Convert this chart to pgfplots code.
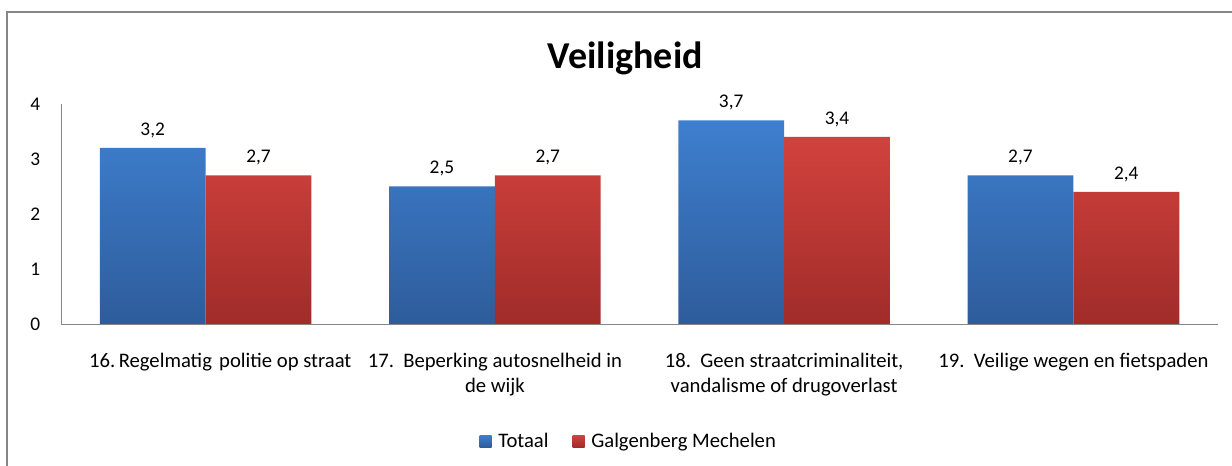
\documentclass[border=0pt]{standalone}
\usepackage{pgfplots}
\pgfplotsset{compat=1.18}
\usepackage{fontspec}
\setmainfont{Carlito}
\definecolor{bluetop}{RGB}{62,127,207}
\definecolor{bluebot}{RGB}{46,92,155}
\definecolor{redtop}{RGB}{210,66,61}
\definecolor{redbot}{RGB}{160,44,42}
\definecolor{frame}{RGB}{134,134,134}
\begin{document}
\begin{tikzpicture}
\useasboundingbox (0,0) rectangle (924pt,349.5pt);
\draw[frame, line width=0.8pt] (5.25pt,0) -- (5.25pt,340.5pt) -- (924pt,340.5pt);
\node[font=\fontsize{28.5}{32}\selectfont\bfseries] at (469pt,306pt) {Veiligheid};
\begin{axis}[
  at={(45.75pt,106.5pt)}, anchor=south west,
  scale only axis, width=867.75pt, height=165pt,
  xmin=0, xmax=4, ymin=0, ymax=4,
  ybar=0pt, bar width=0.366,
  axis x line*=bottom, axis y line*=left,
  axis line style={draw=frame, -},
  major tick length=0pt,
  ytick={0,1,2,3,4},
  xtick={0.5,1.5,2.5,3.5},
  xticklabels={{\hspace{22pt}16.\,Regelmatig\hspace{0.35em}politie op straat},{17.\ \ Beperking autosnelheid in\\de wijk},{18.\ \ Geen straatcriminaliteit,\\vandalisme of drugoverlast},{19.\ \ Veilige wegen en fietspaden}},
  xticklabel style={font=\fontsize{15.5}{18.75}\selectfont, align=center, anchor=north, yshift=-18pt},
  yticklabel style={font=\fontsize{14.5}{16}\selectfont, anchor=east, xshift=-12pt},
  /pgf/number format/assume math mode=true,
  nodes near coords,
  nodes near coords style={font=\fontsize{14.5}{16}\selectfont, yshift=4pt,
    /pgf/number format/use comma, /pgf/number format/fixed, /pgf/number format/fixed zerofill, /pgf/number format/precision=1, /pgf/number format/assume math mode=true},
  legend style={at={(0.491,-0.532)}, anchor=center, draw=none, legend columns=-1, font=\fontsize{15.5}{17}\selectfont,
    /tikz/every even column/.append style={column sep=16pt}},
  legend image code/.code={\path[#1] (0pt,-4.5pt) rectangle (9pt,4.5pt);},
  clip=false,
]
\addplot[draw=none, top color=bluetop, bottom color=bluebot] coordinates {(0.5,3.2) (1.5,2.5) (2.5,3.7) (3.5,2.7)};
\addplot[draw=none, top color=redtop, bottom color=redbot] coordinates {(0.5,2.7) (1.5,2.7) (2.5,3.4) (3.5,2.4)};
\legend{\hspace{3pt}Totaal, \hspace{3pt}Galgenberg Mechelen}
\end{axis}
\end{tikzpicture}
\end{document}
